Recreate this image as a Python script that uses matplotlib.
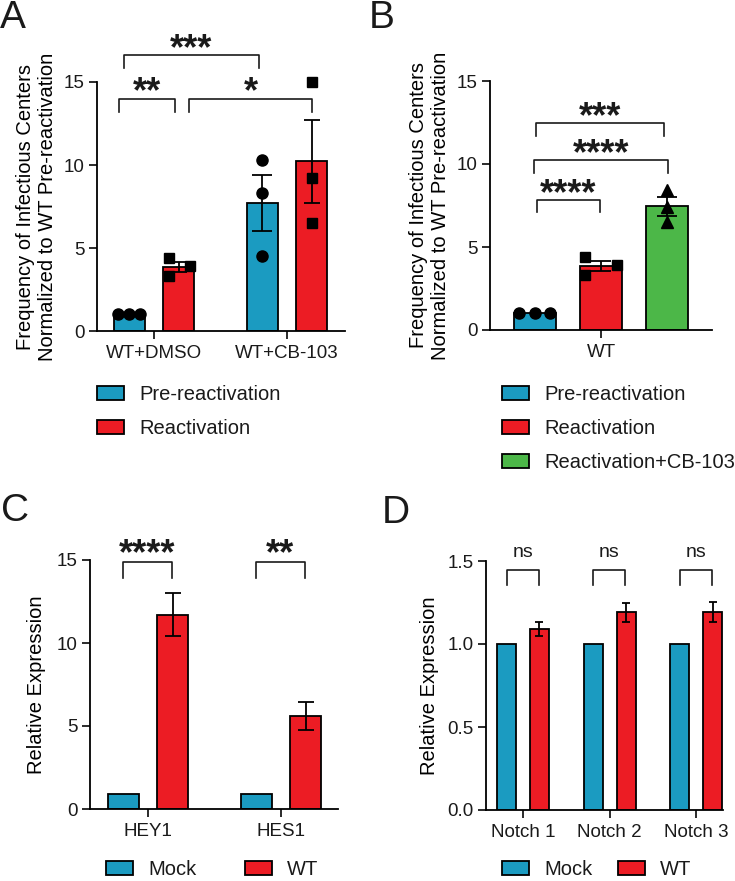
import matplotlib.pyplot as plt
import numpy as np
from matplotlib.patches import Patch

plt.rcParams.update({
    "font.family": ["Liberation Sans", "DejaVu Sans"],
    "font.size": 13.5,
    "axes.linewidth": 1.3,
    "xtick.major.width": 1.3, "ytick.major.width": 1.3,
    "xtick.major.size": 6, "ytick.major.size": 5.5,
    "xtick.major.pad": 4, "ytick.major.pad": 3.5,
    "xtick.labelsize": 13.5, "ytick.labelsize": 13.5,
    "axes.spines.top": False, "axes.spines.right": False,
    "text.color": "#1a1a1a", "xtick.color": "#1a1a1a", "ytick.color": "#1a1a1a",
})

BLUE = "#1b9bc1"
RED = "#ec1c24"
GREEN = "#4cb748"
W, H = 735, 881
LFS = 14.5  # legend / axis label size

# ---- data ----
# panel A: infectious centers, points per replicate
a_groups = ["WT+DMSO", "WT+CB-103"]
a_pre_pts = [[1.0, 1.0, 1.0], [10.3, 8.3, 4.5]]
a_react_pts = [[4.4, 3.3, 3.9], [15.0, 9.2, 6.5]]
a_series = ["Pre-reactivation", "Reactivation"]

# panel B
b_groups = ["WT"]
b_pre_pts = [1.0, 1.0, 1.0]
b_react_pts = [4.4, 3.3, 3.9]
b_cb_pts = [8.45, 7.4, 6.5]
b_series = ["Pre-reactivation", "Reactivation", "Reactivation+CB-103"]

# panel C: relative expression (mean, sem)
c_genes = ["HEY1", "HES1"]
c_mock = [0.9, 0.9]
c_wt = [11.7, 5.6]
c_wt_err = [1.3, 0.85]
c_sig = ["****", "**"]

# panel D
d_genes = ["Notch 1", "Notch 2", "Notch 3"]
d_mock = [1.0, 1.0, 1.0]
d_wt = [1.09, 1.19, 1.195]
d_wt_err = [0.04, 0.055, 0.06]
d_sig = ["ns", "ns", "ns"]
cd_series = ["Mock", "WT"]

fig = plt.figure(figsize=(W / 100, H / 100), dpi=100)


def px_axes(l, t, r, b):
    return fig.add_axes([l / W, 1 - b / H, (r - l) / W, (b - t) / H])


def mean_sem(p):
    p = np.asarray(p, float)
    return p.mean(), p.std(ddof=1) / np.sqrt(len(p))


def bars(ax, x, h, color, width, err=None, cap=6):
    ax.bar(x, h, width, color=color, edgecolor="black", lw=1.3, zorder=2)
    if err is not None:
        ax.errorbar(x, h, yerr=err, fmt="none", ecolor="black", elinewidth=1.3,
                    capsize=cap, capthick=1.3, zorder=4)


def dots(ax, x, pts, jit, marker, ms):
    ax.plot(np.full(len(pts), x) + np.asarray(jit), pts, marker, color="black",
            ms=ms, ls="none", zorder=3, clip_on=False)


def bracket(ax, x1, x2, y, leg, text, ty, fs=26, bold=True, k=0.58):
    ax.plot([x1, x1, x2, x2], [y - leg, y, y, y - leg], color="#1a1a1a",
            lw=1.2, clip_on=False, zorder=5)
    ax.annotate(text, xy=((x1 + x2) / 2, ty), xytext=(0, -k * fs),
                textcoords="offset points", ha="center", va="baseline",
                fontsize=fs, fontweight="bold" if bold else "normal",
                annotation_clip=False)


def legend(ax, labels, colors, left, top, ncol=1, colsp=2.0):
    hs = [Patch(facecolor=c, edgecolor="black", lw=1.3) for c in colors]
    ax.legend(hs, labels, loc="upper left", bbox_to_anchor=(left / W, 1 - top / H),
              bbox_transform=fig.transFigure, frameon=False, borderpad=0,
              borderaxespad=0, handlelength=1.35, handleheight=0.7,
              handletextpad=0.75, labelspacing=0.75, fontsize=LFS, ncol=ncol,
              columnspacing=colsp)


ylab_ab = "Frequency of Infectious Centers\nNormalized to WT Pre-reactivation"

# ---- A ----
ax = px_axes(97, 82, 345, 331)
xa = np.arange(len(a_groups))
off = 0.186
wid = 0.233
for i in range(len(a_groups)):
    m, s = mean_sem(a_pre_pts[i])
    bars(ax, xa[i] - off, m, BLUE, wid, s if s > 0 else None, cap=7)
    m, s = mean_sem(a_react_pts[i])
    bars(ax, xa[i] + off, m, RED, wid, s, cap=6)
dots(ax, xa[0] - off, a_pre_pts[0], [-0.083, 0, 0.083], "o", 8)
dots(ax, xa[0] + off, a_react_pts[0], [-0.075, -0.075, 0.083], "s", 7.5)
dots(ax, xa[1] - off, a_pre_pts[1], [0, 0, 0], "o", 8)
dots(ax, xa[1] + off, a_react_pts[1], [0, 0, 0], "s", 7.5)
ax.set_xlim(-0.429, 1.436)
ax.set_ylim(0, 15)
ax.set_yticks([0, 5, 10, 15])
ax.set_xticks(xa, a_groups)
ax.set_ylabel(ylab_ab, fontsize=LFS, labelpad=5, linespacing=1.15)
bracket(ax, -0.263, 0.158, 13.98, 0.8, "**", 15.06)
bracket(ax, 0.263, 1.19, 13.98, 0.8, "*", 15.06)
bracket(ax, -0.226, 0.789, 16.63, 0.8, "***", 17.65)
legend(ax, a_series, [BLUE, RED], 97, 385)

# ---- B ----
ax = px_axes(490, 81, 712, 330)
wb = 0.63
for x, p, c in [(-1, b_pre_pts, BLUE), (0, b_react_pts, RED), (1, b_cb_pts, GREEN)]:
    m, s = mean_sem(p)
    bars(ax, x, m, c, wb, s if s > 0 else None, cap=7)
dots(ax, -1, b_pre_pts, [-0.24, 0, 0.23], "o", 8)
dots(ax, 0, b_react_pts, [-0.235, -0.235, 0.235], "s", 7.5)
dots(ax, 1, b_cb_pts, [0, 0, 0], "^", 8.5)
ax.set_xlim(-1.68, 1.68)
ax.set_ylim(0, 15)
ax.set_yticks([0, 5, 10, 15])
ax.set_xticks([0], b_groups)
ax.set_ylabel(ylab_ab, fontsize=LFS, labelpad=5, linespacing=1.15)
bracket(ax, -0.97, -0.015, 7.83, 0.75, "****", 8.86)
bracket(ax, -1.015, 1.015, 10.24, 0.78, "****", 11.27)
bracket(ax, -0.985, 0.955, 12.47, 0.78, "***", 13.5)
legend(ax, b_series, [BLUE, RED, GREEN], 502, 385)

# ---- C ----
ax = px_axes(90, 560, 338, 809)
xc = np.arange(len(c_genes))
bars(ax, xc - off, c_mock, BLUE, 0.23)
bars(ax, xc + off, c_wt, RED, 0.23, c_wt_err, cap=6)
ax.set_xlim(-0.436, 1.429)
ax.set_ylim(0, 15)
ax.set_yticks([0, 5, 10, 15])
ax.set_xticks(xc, c_genes)
ax.set_ylabel("Relative Expression", fontsize=LFS, labelpad=8)
for i, s in enumerate(c_sig):
    bracket(ax, xc[i] - 0.188, xc[i] + 0.18, 14.88, 0.96, s, 16.0)
legend(ax, cd_series, [BLUE, RED], 106, 860, ncol=2, colsp=2.4)

# ---- D ----
ax = px_axes(486, 561, 723, 810)
xd = np.arange(len(d_genes))
bars(ax, xd - 0.19, d_mock, BLUE, 0.22)
bars(ax, xd + 0.19, d_wt, RED, 0.22, d_wt_err, cap=3)
ax.set_xlim(-0.428, 2.31)
ax.set_ylim(0, 1.5)
ax.set_yticks([0, 0.5, 1.0, 1.5], ["0.0", "0.5", "1.0", "1.5"])
ax.set_xticks(xd, d_genes)
ax.set_ylabel("Relative Expression", fontsize=LFS, labelpad=6)
for i, s in enumerate(d_sig):
    bracket(ax, xd[i] - 0.19, xd[i] + 0.18, 1.446, 0.091, s, 1.554,
            fs=14, bold=False, k=0.26)
legend(ax, cd_series, [BLUE, RED], 502, 860, ncol=2, colsp=1.25)

# panel letters
for lab, x, y in [("A", 0, 0), ("B", 369, 0), ("C", 1, 493), ("D", 382, 495)]:
    fig.text(x / W, 1 - y / H, lab, fontsize=28, va="top", ha="left")

fig.savefig("out.png", dpi=100)
